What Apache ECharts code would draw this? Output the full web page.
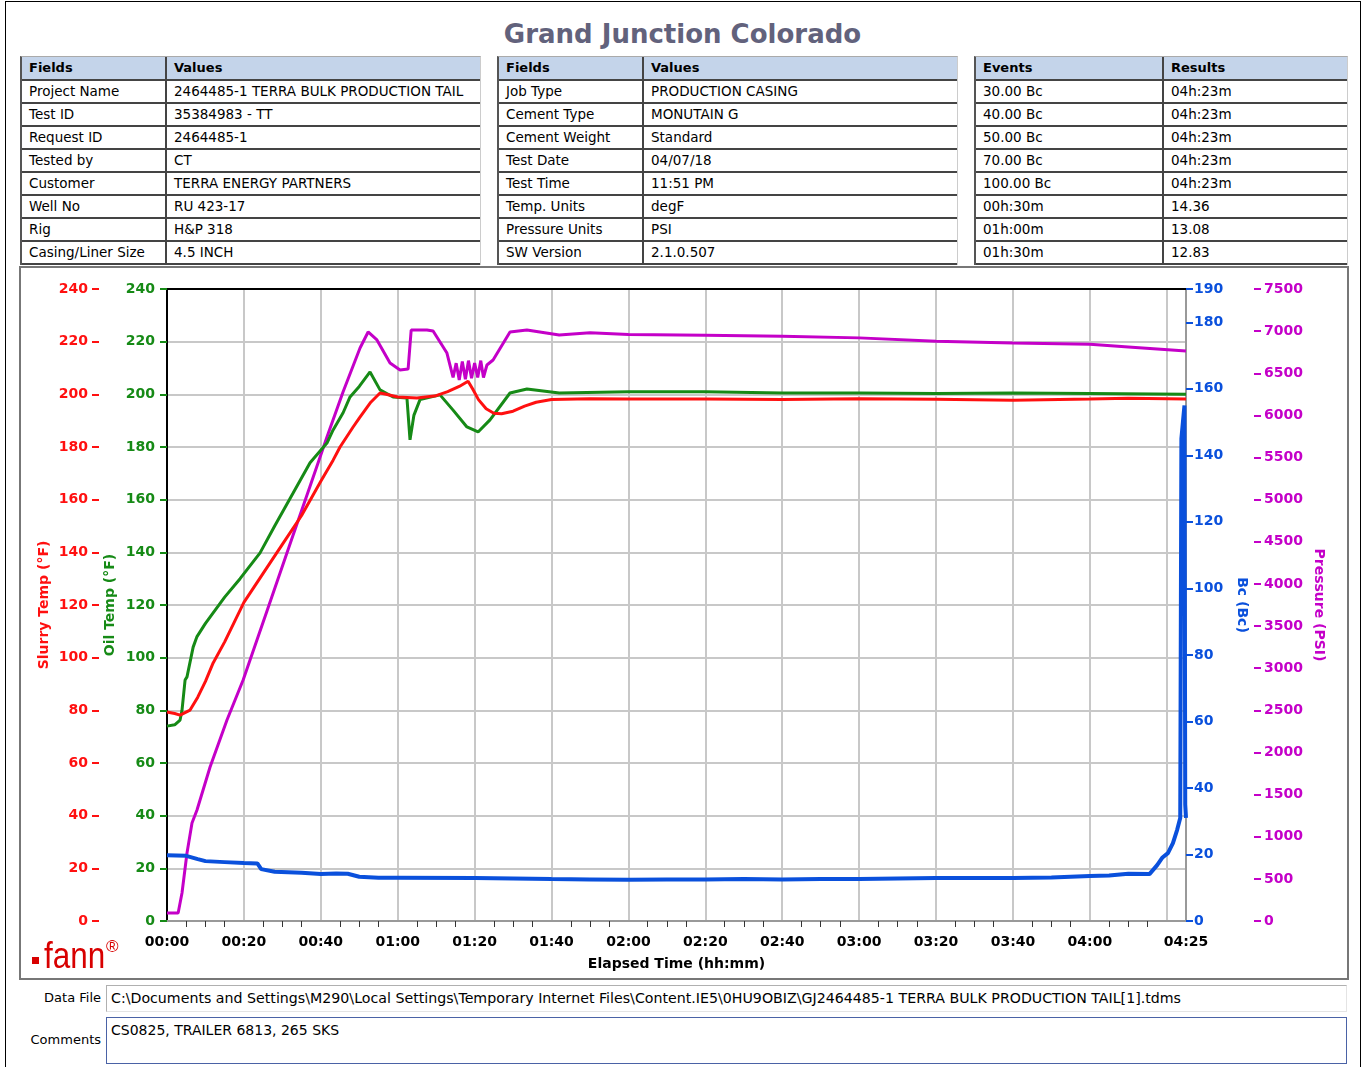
<!DOCTYPE html>
<html>
<head>
<meta charset="utf-8">
<title>Grand Junction Colorado</title>
<script src="https://cdn.jsdelivr.net/npm/echarts@6/dist/echarts.min.js"></script>
<style>
    body {margin:0;background:#fff;font-family:"DejaVu Sans",sans-serif;}
    #page {position:relative;width:1365px;height:1067px;overflow:hidden;background:#fff;}
    .frame {position:absolute;left:5px;top:1px;width:1356px;height:1090px;border:1px solid #000;box-sizing:border-box;}
    .title {position:absolute;left:0;top:19px;width:1365px;text-align:center;font:bold 26px/30px "DejaVu Sans";color:#62627c;}
    .tbl {position:absolute;top:56px;font-size:13.5px;color:#000;border-left:2px solid #555;border-right:1px solid #ccc;border-top:1px solid #aaa;box-sizing:border-box;}
    .row {display:flex;height:23px;border-bottom:2px solid #444;box-sizing:border-box;}
    .row.head {height:24px;background:#c4d4ea;font-weight:bold;font-size:13px;}
    .cell {padding-left:7px;line-height:21px;white-space:nowrap;overflow:hidden;box-sizing:border-box;}
    .cell + .cell {border-left:2px solid #444;}
    .panel {position:absolute;left:19px;top:266px;width:1330px;height:714px;border:2px solid #777;box-sizing:border-box;}
    #chart {position:absolute;left:21px;top:268px;width:1326px;height:710px;}
    .lbl {position:absolute;width:96px;text-align:right;font-size:13px;}
    .box {position:absolute;left:106px;width:1241px;box-sizing:border-box;font-size:14px;padding-left:4px;white-space:nowrap;overflow:hidden;}
</style>
</head>
<body>
<div id="page">
    <div class="frame"></div>
    <div class="title">Grand Junction Colorado</div>
    <div class="tbl" id="tbl1" style="left:20px;width:461px;"></div>
    <div class="tbl" id="tbl2" style="left:497px;width:461px;"></div>
    <div class="tbl" id="tbl3" style="left:974px;width:374px;"></div>
    <div class="panel"></div>
    <div id="chart"></div>
    <div class="lbl" style="left:5px;top:990px;">Data File</div>
    <div class="box" style="top:985px;height:27px;line-height:25px;border:1px solid #b0b0b0;border-right-color:#e4e4e4;border-bottom-color:#e4e4e4;font-size:14.2px;">C:\Documents and Settings\M290\Local Settings\Temporary Internet Files\Content.IE5\0HU9OBIZ\GJ2464485-1 TERRA BULK PRODUCTION TAIL[1].tdms</div>
    <div class="lbl" style="left:5px;top:1032px;">Comments</div>
    <div class="box" style="top:1017px;height:47px;line-height:24px;border:1px solid #4a62a6;">CS0825, TRAILER 6813, 265 SKS</div>
</div>
<script>
    // info tables
    const fieldNames1 = ['Project Name', 'Test ID', 'Request ID', 'Tested by', 'Customer', 'Well No', 'Rig', 'Casing/Liner Size'];
    const fieldValues1 = ['2464485-1 TERRA BULK PRODUCTION TAIL', '35384983 - TT', '2464485-1', 'CT', 'TERRA ENERGY PARTNERS', 'RU 423-17', 'H&P 318', '4.5 INCH'];
    const fieldNames2 = ['Job Type', 'Cement Type', 'Cement Weight', 'Test Date', 'Test Time', 'Temp. Units', 'Pressure Units', 'SW Version'];
    const fieldValues2 = ['PRODUCTION CASING', 'MONUTAIN G', 'Standard', '04/07/18', '11:51 PM', 'degF', 'PSI', '2.1.0.507'];
    const eventNames = ['30.00 Bc', '40.00 Bc', '50.00 Bc', '70.00 Bc', '100.00 Bc', '00h:30m', '01h:00m', '01h:30m'];
    const eventResults = ['04h:23m', '04h:23m', '04h:23m', '04h:23m', '04h:23m', '14.36', '13.08', '12.83'];

    // elapsed minutes / values
    const tOil = [0, 2, 3.4, 3.9, 4.7, 5.2, 6.8, 7.8, 10, 12, 15, 19, 24.2, 28, 32.8, 37.2, 41.6, 43.2, 45.8, 47.6, 50, 52.8, 55.4, 58.8, 62.4, 63.2, 64.2, 65.8, 71, 74.4, 78, 80.9, 84, 89.2, 93.6, 102, 120, 140, 160, 180, 200, 220, 240, 265];
    const oilTemp = [74, 74.5, 76.3, 80, 91.5, 92.7, 104, 108, 113, 117, 123, 130, 139.8, 150, 162.5, 174, 181.5, 186.5, 193, 199, 203, 208.5, 201.7, 199, 198.6, 182.7, 192, 198, 199.8, 194, 187.6, 185.7, 190.3, 200.5, 202, 200.5, 201, 201, 200.5, 200.5, 200.3, 200.5, 200.3, 200];

    const tSlurry = [0, 2, 3.4, 6, 8, 10, 12, 15, 20, 25, 30, 35, 40, 43.2, 45, 48.4, 50, 53, 55.4, 57, 60, 65, 70, 73, 76, 78.3, 79.5, 81, 83, 85, 87, 90, 93, 96, 100, 110, 120, 140, 160, 180, 200, 220, 240, 250, 260, 265];
    const slurryTemp = [79.4, 78.8, 78.2, 80.1, 85, 91, 98, 106, 121, 132, 143, 154, 167, 175, 180, 187.6, 191, 197, 200.5, 200, 199, 198.6, 199.5, 201, 203, 205, 202, 198, 194.5, 192.8, 192.6, 193.6, 195.5, 197, 198, 198.3, 198.2, 198.2, 198, 198.3, 198.1, 197.8, 198.2, 198.5, 198.3, 198.2];

    const tBc = [0, 5, 8, 10, 15, 20, 23.5, 24.5, 28, 35, 40, 44, 47, 50, 55, 60, 80, 90, 100, 110, 120, 130, 140, 150, 160, 170, 180, 190, 200, 210, 220, 230, 240, 245, 250, 255.5, 257.5, 258.8, 260.3, 261.6, 262.7, 263.5, 263.8, 264.2, 264.6, 264.8, 265];
    const bcValues = [19.8, 19.6, 18.6, 18, 17.7, 17.4, 17.3, 15.6, 14.8, 14.5, 14.1, 14.3, 14.2, 13.3, 13, 13, 12.9, 12.8, 12.6, 12.5, 12.4, 12.5, 12.5, 12.6, 12.5, 12.6, 12.6, 12.8, 12.9, 12.9, 12.9, 13.1, 13.5, 13.7, 14.2, 14.1, 16.8, 19, 20.4, 23.4, 27.4, 31, 145, 150, 155, 35, 31];

    const tPres = [0, 2.9, 3.9, 5.2, 6.5, 7.8, 11.2, 15.6, 19.8, 26, 32.8, 37.2, 41.6, 45.8, 50.2, 52.3, 54.6, 58, 60.6, 62.7, 63.5, 67.6, 69.2, 72.8, 74.4, 75.2, 76, 76.8, 77.6, 78.4, 79.2, 80, 80.8, 81.6, 82.3, 83.2, 84.8, 89.2, 93.6, 102, 110, 120, 140, 160, 180, 200, 220, 240, 250, 265];
    const pressure = [95, 95, 332, 807, 1163, 1317, 1828, 2385, 2860, 3680, 4580, 5160, 5744, 6280, 6800, 6990, 6895, 6622, 6539, 6550, 7013, 7013, 7001, 6740, 6450, 6620, 6420, 6640, 6430, 6650, 6440, 6620, 6450, 6650, 6450, 6598, 6657, 6990, 7013, 6954, 6980, 6960, 6950, 6940, 6920, 6880, 6860, 6845, 6812, 6764];

    function fillTable(id, names, values, head) {
        const el = document.getElementById(id);
        const w1 = id === 'tbl3' ? 186 : 143;
        let html = '<div class="row head"><div class="cell" style="width:' + w1 + 'px">' + head[0] + '</div><div class="cell" style="flex:1">' + head[1] + '</div></div>';
        names.forEach(function (n, i) {
            html += '<div class="row"><div class="cell" style="width:' + w1 + 'px">' + n + '</div><div class="cell" style="flex:1">' + values[i].replace('&', '&amp;') + '</div></div>';
        });
        el.innerHTML = html;
    }
    fillTable('tbl1', fieldNames1, fieldValues1, ['Fields', 'Values']);
    fillTable('tbl2', fieldNames2, fieldValues2, ['Fields', 'Values']);
    fillTable('tbl3', eventNames, eventResults, ['Events', 'Results']);

    const RED = '#ff1010', GREEN = '#168a16', BLUE = '#0a50dc', MAG = '#c400c8';
    const FONT = '"DejaVu Sans", sans-serif';

    function pairs(ts, vs) { return ts.map(function (t, i) { return [t, vs[i]]; }); }
    function pad(n) { return (n < 10 ? '0' : '') + n; }
    function hhmm(v) {
        if (v === 260) return '';
        return pad(Math.floor(v / 60)) + ':' + pad(Math.round(v % 60));
    }

    function yAxis(opt) {
        return {
            type: 'value', min: 0, max: opt.max, interval: opt.interval,
            position: opt.position, offset: opt.offset || 0,
            name: opt.name, nameLocation: 'middle', nameGap: opt.nameGap, nameRotate: opt.nameRotate,
            nameMoveOverlap: false,
            nameTextStyle: {color: opt.color, fontWeight: 'bold', fontSize: 14, fontFamily: FONT},
            axisLine: {show: true, onZero: false, lineStyle: {color: opt.line || 'rgba(0,0,0,0)', width: 2}},
            axisTick: {show: true, length: 7, lineStyle: {color: opt.color, width: 2}},
            axisLabel: {color: opt.color, fontWeight: 'bold', fontSize: 14, fontFamily: FONT, margin: opt.margin,
                showMinLabel: true, showMaxLabel: true, formatter: function (v) { return String(v); }},
            splitLine: {show: !!opt.split, lineStyle: {color: '#c8c8c8', width: 2}}
        };
    }

    const chart = echarts.init(document.getElementById('chart'));
    chart.setOption({
        animation: false,
        backgroundColor: '#fff',
        grid: {left: 146, top: 21, right: 161, bottom: 57, containLabel: false},
        graphic: [
            {type: 'rect', shape: {x: 11, y: 689, width: 7, height: 7}, style: {fill: '#d80000'}},
            {type: 'text', x: 23, y: 708, scaleX: 0.85, style: {text: 'fann', fill: '#d80000', font: '37px "Liberation Sans"', textVerticalAlign: 'bottom'}},
            {type: 'text', x: 85, y: 671, style: {text: '®', fill: '#d80000', font: '17px "Liberation Sans"'}}
        ],
        xAxis: [{
            type: 'value', min: 0, max: 265, interval: 20, position: 'bottom',
            name: 'Elapsed Time (hh:mm)', nameLocation: 'middle', nameGap: 36, nameMoveOverlap: false,
            nameTextStyle: {color: '#000', fontWeight: 'bold', fontSize: 14, fontFamily: FONT},
            axisLine: {show: true, onZero: false, lineStyle: {color: '#999', width: 2}},
            axisTick: {show: false},
            minorTick: {show: true, splitNumber: 4, length: 6, lineStyle: {color: '#333', width: 1}},
            axisLabel: {formatter: hhmm, color: '#000', fontWeight: 'bold', fontSize: 14, fontFamily: FONT, margin: 14, showMinLabel: true, showMaxLabel: true},
            splitLine: {show: true, lineStyle: {color: '#c8c8c8', width: 2}}
        }, {
            type: 'value', min: 0, max: 265, position: 'top',
            axisLine: {show: true, onZero: false, lineStyle: {color: '#000', width: 2}},
            axisTick: {show: false}, axisLabel: {show: false}, splitLine: {show: false}
        }],
        yAxis: [
            yAxis({name: 'Oil Temp (°F)', color: GREEN, max: 240, interval: 20, position: 'left', nameGap: 50, margin: 12, line: '#000', split: true}),
            yAxis({name: 'Slurry Temp (°F)', color: RED, max: 240, interval: 20, position: 'left', offset: 68, nameGap: 48, margin: 11}),
            yAxis({name: 'Bc (Bc)', color: BLUE, max: 190, interval: 20, position: 'right', nameGap: 49, nameRotate: -90, margin: 8, line: '#999'}),
            yAxis({name: 'Pressure (PSI)', color: MAG, max: 7500, interval: 500, position: 'right', offset: 68, nameGap: 58, nameRotate: -90, margin: 10})
        ],
        series: [
            {name: 'Pressure', type: 'line', yAxisIndex: 3, data: pairs(tPres, pressure), showSymbol: false, silent: true, lineStyle: {color: MAG, width: 3}, itemStyle: {color: MAG}},
            {name: 'Oil Temp', type: 'line', yAxisIndex: 0, data: pairs(tOil, oilTemp), showSymbol: false, silent: true, lineStyle: {color: GREEN, width: 3}, itemStyle: {color: GREEN}},
            {name: 'Slurry Temp', type: 'line', yAxisIndex: 1, data: pairs(tSlurry, slurryTemp), showSymbol: false, silent: true, lineStyle: {color: RED, width: 3}, itemStyle: {color: RED}},
            {name: 'Bc', type: 'line', yAxisIndex: 2, data: pairs(tBc, bcValues), showSymbol: false, silent: true, lineStyle: {color: BLUE, width: 4}, itemStyle: {color: BLUE}}
        ]
    });
</script>
</body>
</html>
